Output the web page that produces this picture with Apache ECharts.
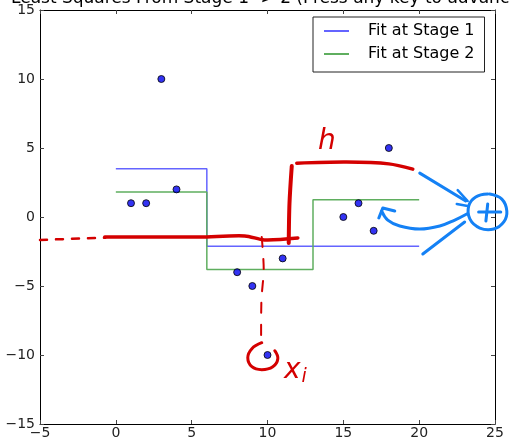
<!DOCTYPE html>
<html>
<head>
<meta charset="utf-8">
<script src="https://cdn.jsdelivr.net/npm/echarts@6/dist/echarts.min.js"></script>
<style>
  html, body { margin: 0; padding: 0; background: #fff; }
  #main { width: 509px; height: 444px; }
</style>
</head>
<body>
<div id="main"></div>
<script>
// training points
var pointX = [1, 2, 3, 4, 8, 9, 10, 11, 15, 16, 17, 18];
var pointY = [1, 1, 10, 2, -4, -5, -10, -3, 0, 1, -1, 5];

// stage fits (step functions)
var stage1X = [0, 6, 6, 20];
var stage1Y = [3.5, 3.5, -2.125, -2.125];
var stage2X = [0, 6, 6, 13, 13, 20];
var stage2Y = [1.81, 1.81, -3.81, -3.81, 1.25, 1.25];

// hand drawn notes (data coords)
var redDashLeft = [[-5, -1.66], [-0.7, -1.5]];
var redBase = [[-0.73, -1.45], [5.5, -1.45], [8.5, -1.37], [9.8, -1.66], [12.0, -1.52]];
var redRise = [[11.6, 3.69], [11.45, 1.0], [11.4, -1.88]];
var redTop = [[11.93, 3.9], [15.2, 3.98], [18.0, 3.85], [19.58, 3.47]];
var redDrop = [[9.62, -1.45], [9.75, -3.8], [9.6, -6.0], [9.58, -9.0]];
var redLoop = [[9.62, -9.11], [8.97, -9.54], [8.7, -10.2], [8.97, -10.85], [9.62, -11.06], [10.35, -10.85], [10.68, -10.27], [10.48, -9.69]];
var blueUpper = [[20.04, 3.18], [23.07, 1.16]];
var blueLower = [[20.24, -2.68], [23.0, -0.36]];
var blueTick1 = [[22.54, 1.95], [23.2, 1.16]];
var blueTick2 = [[22.48, 0.94], [23.2, 0.8]];
var blueCurve = [[23.14, 0.22], [22.35, -0.22], [21.36, -0.65], [20.04, -0.87], [18.72, -0.65], [17.93, -0.22], [17.53, 0.43]];
var blueHead = [[17.34, -0.07], [17.6, 0.65], [18.39, 0.43]];
var blueRing = [[24.52, 1.66], [23.73, 1.45], [23.27, 0.8], [23.34, -0.14], [24.0, -0.8], [24.92, -0.87], [25.58, -0.36], [25.78, 0.43], [25.45, 1.3], [24.65, 1.66]];
var bluePlusH = [[23.92, 0.36], [25.38, 0.36]];
var bluePlusV = [[24.52, 0.94], [24.4, -0.29]];

var RED = '#d40000';
var BLUE = '#1481f5';
var FONT = 'DejaVu Sans';

// strokes are [points, color, width, dash, smooth]
var strokes = [
    [redDashLeft, RED, 2.5, [7, 9], 0],
    [redBase, RED, 3.5, null, 0.3],
    [redRise, RED, 4, null, 0.3],
    [redTop, RED, 3.5, null, 0.3],
    [redDrop, RED, 2, [10, 12], 0.3],
    [redLoop, RED, 3, null, 0.4],
    [blueUpper, BLUE, 3, null, 0],
    [blueLower, BLUE, 3, null, 0],
    [blueTick1, BLUE, 2.5, null, 0],
    [blueTick2, BLUE, 2.5, null, 0],
    [blueCurve, BLUE, 3, null, 0.4],
    [blueHead, BLUE, 3, null, 0],
    [blueRing, BLUE, 3, null, 0.4],
    [bluePlusH, BLUE, 3, null, 0],
    [bluePlusV, BLUE, 3, null, 0]
];

function zip(xs, ys) {
    var out = [];
    for (var i = 0; i < xs.length; i++) {
        out.push([xs[i], ys[i]]);
    }
    return out;
}

function minus(v) {
    return String(v).replace('-', '\u2212');
}

var chart = echarts.init(document.getElementById('main'));

var axisCommon = {
    interval: 5,
    splitLine: { show: false },
    axisLine: { onZero: false, lineStyle: { color: '#000', width: 1 } },
    axisTick: { inside: true, length: 4, lineStyle: { color: '#444' } }
};

var textGraphics = [
    {
        type: 'text', left: 11, top: -10, z: 10,
        style: { text: 'Least Squares From Stage 1 -> 2 (Press any key to advance)', font: '17px "DejaVu Sans"', fill: '#000' }
    },
    {
        type: 'text', left: 318, top: 128, z: 10,
        style: { text: 'h', font: 'italic 28px "DejaVu Sans"', fill: RED }
    },
    {
        type: 'text', left: 284, top: 357, z: 10,
        style: {
            text: '{x|x}{i|i}',
            rich: {
                x: { fontFamily: FONT, fontSize: 28, fontStyle: 'italic', fill: RED },
                i: { fontFamily: FONT, fontSize: 19, fontStyle: 'italic', fill: RED, padding: [12, 0, 0, 1] }
            }
        }
    }
];

var option = {
    animation: false,
    grid: { left: 40, top: 10, right: 14, bottom: 20 },
    legend: {
        data: ['Fit at Stage 1', 'Fit at Stage 2'],
        orient: 'vertical',
        left: 313,
        top: 17,
        padding: [6, 10, 10, 11],
        itemWidth: 25,
        itemHeight: 2,
        itemGap: 7,
        icon: 'rect',
        borderColor: '#222',
        borderWidth: 1,
        backgroundColor: '#fff',
        textStyle: { fontFamily: FONT, fontSize: 16, color: '#000', lineHeight: 16, padding: [0, 0, 0, 14] }
    },
    graphic: textGraphics,
    xAxis: [
        Object.assign({}, axisCommon, {
            type: 'value', min: -5, max: 25, position: 'bottom',
            axisLabel: { fontFamily: FONT, fontSize: 14, color: '#222', margin: 2, formatter: minus }
        }),
        Object.assign({}, axisCommon, {
            type: 'value', min: -5, max: 25, position: 'top',
            axisLabel: { show: false }
        })
    ],
    yAxis: [
        Object.assign({}, axisCommon, {
            type: 'value', min: -15, max: 15, position: 'left',
            axisLabel: { fontFamily: FONT, fontSize: 14, color: '#222', margin: 5, formatter: minus }
        }),
        Object.assign({}, axisCommon, {
            type: 'value', min: -15, max: 15, position: 'right',
            axisLabel: { show: false }
        })
    ],
    series: [
        {
            name: 'Fit at Stage 1',
            type: 'line',
            data: zip(stage1X, stage1Y),
            symbol: 'none',
            itemStyle: { color: '#6464ff' },
            lineStyle: { color: '#6464ff', width: 1.5 },
            z: 2
        },
        {
            name: 'Fit at Stage 2',
            type: 'line',
            data: zip(stage2X, stage2Y),
            symbol: 'none',
            itemStyle: { color: '#5fae5f' },
            lineStyle: { color: '#5fae5f', width: 1.5 },
            z: 2
        },
        {
            name: 'points',
            type: 'scatter',
            data: zip(pointX, pointY),
            symbolSize: 7,
            itemStyle: { color: '#0000f0', borderColor: '#000', borderWidth: 1 },
            z: 3
        }
    ]
};

chart.setOption(option);

// hand drawn notes go on top, mapped through the chart's axes so they can leave the plot box
var noteGraphics = strokes.map(function (s) {
    var pts = s[0].map(function (p) {
        return chart.convertToPixel({ gridIndex: 0 }, p);
    });
    var style = { stroke: s[1], lineWidth: s[2], fill: null, lineCap: 'round', lineJoin: 'round' };
    if (s[3]) style.lineDash = s[3];
    return {
        type: 'polyline',
        z: 20,
        silent: true,
        shape: { points: pts, smooth: s[4] },
        style: style
    };
});

chart.setOption({ graphic: textGraphics.concat(noteGraphics) });
</script>
</body>
</html>
